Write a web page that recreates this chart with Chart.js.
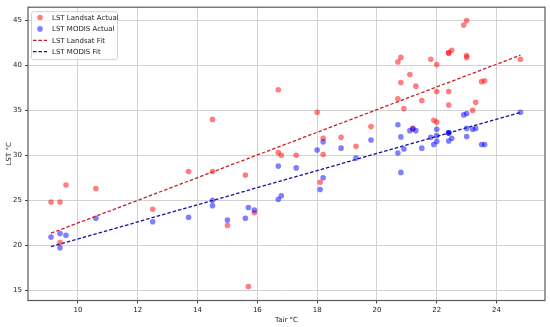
<!DOCTYPE html>
<html>
<head>
<meta charset="utf-8">
<script src="https://cdn.jsdelivr.net/npm/chart.js@4/dist/chart.umd.min.js"></script>
<style>
  html, body { margin: 0; padding: 0; background: #ffffff; }
  #wrap { width: 550px; height: 327px; }
</style>
</head>
<body>
<div id="wrap"><canvas id="c" width="550" height="327"></canvas></div>
<script>
// ---- data ----
const tair = [9.1, 9.4, 9.6, 9.4, 10.6, 12.5, 13.7, 14.5, 14.5, 15.0, 15.6, 15.7, 15.9,
  16.7, 16.7, 16.8, 17.3, 18.0, 18.1, 18.2, 18.2, 18.8, 19.3, 19.8, 20.7, 20.8, 20.8,
  20.7, 20.9, 21.1, 21.3, 21.5, 21.2, 21.8, 22.0, 22.0, 21.9, 22.0, 22.4, 22.4, 22.5,
  22.4, 22.4, 22.9, 23.0, 23.0, 23.0, 23.2, 23.3, 23.5, 23.6, 24.8];
const lstLandsat = [24.8, 24.8, 26.7, 20.3, 26.3, 24.0, 28.2, 34.0, 28.2, 22.2, 27.8, 15.4, 23.6,
  37.3, 30.3, 30.0, 30.0, 34.8, 27.0, 31.9, 30.1, 32.0, 31.0, 33.2, 40.4, 40.9, 38.1,
  36.3, 35.2, 39.0, 37.7, 36.1, 33.0, 40.7, 40.1, 37.1, 33.9, 33.7, 41.4, 41.4, 41.7,
  37.1, 35.6, 44.5, 45.0, 41.1, 40.9, 35.0, 35.9, 38.2, 38.3, 40.7];
const lstModis = [20.9, 21.3, 21.1, 19.7, 23.0, 22.6, 23.1, 25.0, 24.4, 22.8, 23.0, 24.2, 23.9,
  28.8, 25.1, 25.5, 28.6, 30.6, 26.2, 31.5, 27.5, 30.8, 29.7, 31.7, 33.4, 32.05, 28.1,
  30.25, 30.7, 32.75, 32.75, 30.8, 32.95, 32.0, 32.2, 32.9, 31.2, 31.55, 32.5, 32.5, 31.9,
  31.6, 32.5, 34.5, 34.65, 33.0, 32.1, 32.9, 33.0, 31.2, 31.2, 34.8];
const fitTair = [9.1, 24.8];
const landsatFit = [21.33, 41.15];
const modisFit = [19.83, 34.78];
const xTicks = [10, 12, 14, 16, 18, 20, 22, 24];
const yTicks = [15, 20, 25, 30, 35, 40, 45];
const seriesLabels = ['LST Landsat Actual', 'LST MODIS Actual', 'LST Landsat Fit', 'LST MODIS Fit'];

const toPts = (xs, ys) => xs.map((x, i) => ({ x: x, y: ys[i] }));
const FONT = 'DejaVu Sans';

const framePlugin = {
  id: 'frame',
  afterDatasetsDraw(chart) {
    const { ctx, chartArea: a } = chart;
    ctx.save();
    ctx.strokeStyle = '#5a5a5a';
    ctx.lineWidth = 1.2;
    ctx.strokeRect(a.left, a.top, a.right - a.left, a.bottom - a.top);
    ctx.restore();
  }
};

const legendPlugin = {
  id: 'innerLegend',
  afterDatasetsDraw(chart) {
    const { ctx, chartArea: a } = chart;
    const bx = a.left + 3, by = a.top + 4, bw = 86, bh = 48;
    ctx.save();
    ctx.fillStyle = 'rgba(255,255,255,0.85)';
    ctx.strokeStyle = '#d2d2d2';
    ctx.lineWidth = 1;
    ctx.beginPath();
    if (ctx.roundRect) ctx.roundRect(bx + 0.5, by + 0.5, bw, bh, 2); else ctx.rect(bx + 0.5, by + 0.5, bw, bh);
    ctx.fill();
    ctx.stroke();
    ctx.font = '7px "' + FONT + '"';
    ctx.textBaseline = 'middle';
    ctx.textAlign = 'left';
    chart.data.datasets.forEach((ds, i) => {
      const cy = by + 6.3 + i * 11.4;
      if (!ds.showLine) {
        ctx.fillStyle = ds.backgroundColor;
        ctx.beginPath();
        ctx.arc(bx + 9, cy, 2.8, 0, Math.PI * 2);
        ctx.fill();
      } else {
        ctx.strokeStyle = ds.borderColor;
        ctx.lineWidth = ds.borderWidth;
        ctx.setLineDash(ds.borderDash);
        ctx.beginPath();
        ctx.moveTo(bx + 2, cy);
        ctx.lineTo(bx + 16, cy);
        ctx.stroke();
        ctx.setLineDash([]);
      }
      ctx.fillStyle = '#222222';
      ctx.fillText(ds.label, bx + 21, cy + 0.5);
    });
    ctx.restore();
  }
};

new Chart(document.getElementById('c'), {
  type: 'scatter',
  data: {
    datasets: [
      { label: seriesLabels[0], data: toPts(tair, lstLandsat), backgroundColor: 'rgba(255,0,0,0.5)',
        borderWidth: 0, pointRadius: 2.8, pointHoverRadius: 2.8, showLine: false, order: 3 },
      { label: seriesLabels[1], data: toPts(tair, lstModis), backgroundColor: 'rgba(0,0,255,0.5)',
        borderWidth: 0, pointRadius: 2.8, pointHoverRadius: 2.8, showLine: false, order: 2 },
      { label: seriesLabels[2], data: toPts(fitTair, landsatFit), showLine: true, borderColor: '#c42226',
        borderWidth: 1.3, borderDash: [3.5, 2], pointRadius: 0, fill: false, order: 1 },
      { label: seriesLabels[3], data: toPts(fitTair, modisFit), showLine: true, borderColor: '#1212a0',
        borderWidth: 1.3, borderDash: [3.5, 2], pointRadius: 0, fill: false, order: 0 }
    ]
  },
  options: {
    responsive: false,
    animation: false,
    devicePixelRatio: 1,
    layout: { padding: { top: 5, right: 5, left: 0, bottom: 0 } },
    plugins: { legend: { display: false }, tooltip: { enabled: false } },
    scales: {
      x: {
        type: 'linear', min: 8.33, max: 25.62,
        afterBuildTicks: s => { s.ticks = xTicks.map(v => ({ value: v })); },
        afterFit: s => { s.height = 26.5; },
        grid: { color: '#d2d2d2', lineWidth: 1, tickLength: 3, tickColor: '#444444', drawTicks: true },
        border: { display: false },
        ticks: { padding: 2, color: '#222222', font: { family: FONT, size: 7 }, maxRotation: 0, autoSkip: false },
        title: { display: true, text: 'Tair °C', color: '#222222', font: { family: FONT, size: 7 }, padding: { top: 0, bottom: 2.8 } }
      },
      y: {
        type: 'linear', min: 13.84, max: 46.49,
        afterBuildTicks: s => { s.ticks = yTicks.map(v => ({ value: v })); },
        afterFit: s => { s.width = 28; },
        grid: { color: '#d2d2d2', lineWidth: 1, tickLength: 3, tickColor: '#444444', drawTicks: true },
        border: { display: false },
        ticks: { padding: 3, color: '#222222', font: { family: FONT, size: 7 }, autoSkip: false },
        title: { display: true, text: 'LST °C', color: '#222222', font: { family: FONT, size: 7 }, padding: { top: 4.8, bottom: 0 } }
      }
    }
  },
  plugins: [framePlugin, legendPlugin]
});
</script>
</body>
</html>
